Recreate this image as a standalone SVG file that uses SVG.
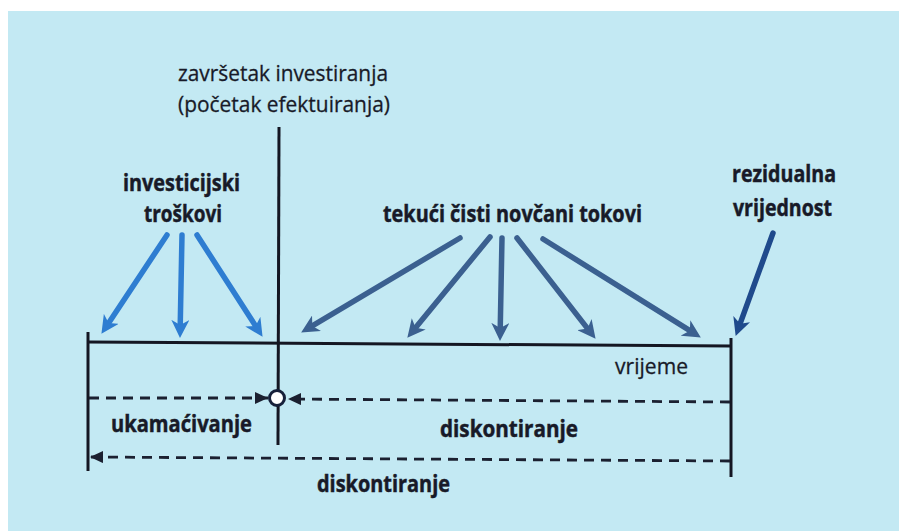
<svg xmlns="http://www.w3.org/2000/svg" width="899" height="531" viewBox="0 0 899 531">
<style>
.t{font-family:"Open Sans","Noto Sans","Liberation Sans",sans-serif;fill:#181a28}
.b{font-weight:bold;font-size:24px;stroke:#181a28;stroke-width:0.5}
.r{font-size:22px;stroke:#181a28;stroke-width:0.3}
.ax{stroke:#141622;stroke-width:3;fill:none}
.d{stroke:#1b2030;stroke-width:2.8;stroke-dasharray:10 7;fill:none}
.inv{stroke:#2e7dd1;stroke-width:5.5;stroke-linecap:round;fill:none}
.tek{stroke:#3b6090;stroke-width:5.5;stroke-linecap:round;fill:none}
.rez{stroke:#1f4a8c;stroke-width:5.5;stroke-linecap:round;fill:none}
</style>
<defs>
<marker id="mi" viewBox="0 0 18 18" refX="7" refY="9" markerWidth="18" markerHeight="18" markerUnits="userSpaceOnUse" orient="auto"><path d="M0,0 L18,9 L0,18 L5,9 z" fill="#2e7dd1"/></marker>
<marker id="mt" viewBox="0 0 18 18" refX="7" refY="9" markerWidth="18" markerHeight="18" markerUnits="userSpaceOnUse" orient="auto"><path d="M0,0 L18,9 L0,18 L5,9 z" fill="#3b6090"/></marker>
<marker id="mr" viewBox="0 0 18 18" refX="7" refY="9" markerWidth="18" markerHeight="18" markerUnits="userSpaceOnUse" orient="auto"><path d="M0,0 L18,9 L0,18 L5,9 z" fill="#1f4a8c"/></marker>
<marker id="md" viewBox="0 0 13 12" refX="13" refY="6" markerWidth="13" markerHeight="12" markerUnits="userSpaceOnUse" orient="auto"><path d="M0,0 L13,6 L0,12 z" fill="#1b2030"/></marker>
</defs>
<rect x="0" y="0" width="899" height="531" fill="#ffffff"/>
<rect x="8" y="11" width="891" height="520" fill="#c3e9f3"/>

<g id="title">
<text class="t r" x="178" y="81" textLength="210" lengthAdjust="spacingAndGlyphs">završetak investiranja</text>
<text class="t r" x="178" y="112" textLength="212" lengthAdjust="spacingAndGlyphs">(početak efektuiranja)</text>
</g>
<g id="investicijski">
<text class="t b" x="123" y="191" textLength="117" lengthAdjust="spacingAndGlyphs">investicijski</text>
<text class="t b" x="144" y="222" textLength="78" lengthAdjust="spacingAndGlyphs">troškovi</text>
</g>
<g id="tekuci">
<text class="t b" x="383" y="222" textLength="259" lengthAdjust="spacingAndGlyphs">tekući čisti novčani tokovi</text>
</g>
<g id="rezidualna">
<text class="t b" x="732" y="182" textLength="104" lengthAdjust="spacingAndGlyphs">rezidualna</text>
<text class="t b" x="733" y="216" textLength="99" lengthAdjust="spacingAndGlyphs">vrijednost</text>
</g>
<g id="axis">
<line class="ax" x1="279" y1="127" x2="278" y2="445"/>
<line class="ax" x1="88" y1="342" x2="731" y2="346"/>
<line class="ax" x1="88" y1="332" x2="88" y2="471"/>
<line class="ax" x1="731" y1="338" x2="731" y2="477"/>
<text class="t" x="615" y="374" font-size="22" stroke="#181a28" stroke-width="0.3" textLength="73" lengthAdjust="spacingAndGlyphs">vrijeme</text>
</g>
<g id="connectors">
<line class="inv" x1="167" y1="235" x2="107.5" y2="324.7" marker-end="url(#mi)"/>
<line class="inv" x1="182" y1="235" x2="180.2" y2="327" marker-end="url(#mi)"/>
<line class="inv" x1="197" y1="235" x2="256.6" y2="327.6" marker-end="url(#mi)"/>
<line class="tek" x1="460" y1="238" x2="310.6" y2="326.9" marker-end="url(#mt)"/>
<line class="tek" x1="490" y1="237" x2="414.3" y2="329.3" marker-end="url(#mt)"/>
<line class="tek" x1="502" y1="238" x2="500.2" y2="330" marker-end="url(#mt)"/>
<line class="tek" x1="517" y1="238" x2="588.8" y2="330.1" marker-end="url(#mt)"/>
<line class="tek" x1="543" y1="239" x2="691.5" y2="331.7" marker-end="url(#mt)"/>
<line class="rez" x1="773" y1="233" x2="739.4" y2="325.6" marker-end="url(#mr)"/>
<line class="d" x1="89" y1="398" x2="268" y2="398" marker-end="url(#md)"/>
<line class="d" x1="730" y1="402" x2="288" y2="399" marker-end="url(#md)"/>
<line class="d" x1="730" y1="461" x2="90" y2="457" marker-end="url(#md)"/>
</g>
<g id="point">
<circle cx="277" cy="398" r="7.5" fill="#ffffff" stroke="#16203a" stroke-width="3"/>
</g>
<g id="labels">
<text class="t b" x="111" y="432" textLength="141" lengthAdjust="spacingAndGlyphs">ukamaćivanje</text>
<text class="t b" x="440" y="437" textLength="138" lengthAdjust="spacingAndGlyphs">diskontiranje</text>
<text class="t b" x="317" y="492" textLength="133" lengthAdjust="spacingAndGlyphs">diskontiranje</text>
</g>
</svg>
